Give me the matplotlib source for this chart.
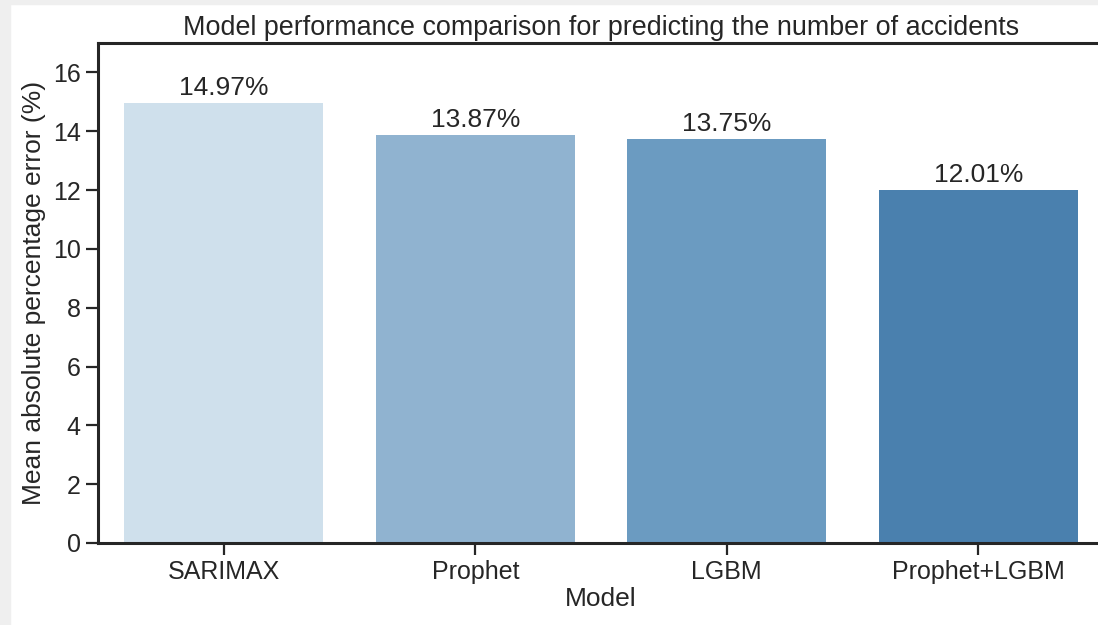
import matplotlib
matplotlib.use("Agg")
import matplotlib.pyplot as plt
from matplotlib.patches import Rectangle

models = ["SARIMAX", "Prophet", "LGBM", "Prophet+LGBM"]
mape = [14.97, 13.87, 13.75, 12.01]
bar_colors = ["#cfe0ec", "#90b3d0", "#6b9bc1", "#4a80ae"]
yticks = [0, 2, 4, 6, 8, 10, 12, 14, 16]

plt.rcParams['font.family'] = ['Liberation Sans', 'DejaVu Sans']
dark = "#262626"

fig = plt.figure(figsize=(10.98, 6.25), dpi=100)
fig.patch.set_facecolor("white")
# light grey strips at left and top edges
fig.patches.append(Rectangle((0, 0), 10/1098, 1, transform=fig.transFigure,
                             color="#efefef", zorder=0))
fig.patches.append(Rectangle((0, 1 - 4/625), 1, 4/625, transform=fig.transFigure,
                             color="#efefef", zorder=0))

ax = fig.add_axes([98/1098, (625-543)/625, (1104-98)/1098, (543-43)/625])
x = range(len(models))
bars = ax.bar(x, mape, width=0.79, color=bar_colors)
for xi, v in zip(x, mape):
    ax.text(xi, v + 0.1, f"{v:.2f}%", ha="center", va="bottom", fontsize=19, color=dark)

ax.set_xlim(-0.5, 3.5)
ax.set_ylim(0, 17)
ax.set_xticks(list(x))
ax.set_xticklabels(models)
ax.set_yticks(yticks)
ax.tick_params(axis="both", labelsize=18, colors=dark, length=8.5, width=1.6, direction="out", pad=4)
for s in ax.spines.values():
    s.set_linewidth(2.2)
    s.set_color(dark)
ax.set_xlabel("Model", fontsize=19, color=dark, labelpad=2)
ax.set_ylabel("Mean absolute percentage error (%)", fontsize=19, color=dark, labelpad=5)
ax.set_title("Model performance comparison for predicting the number of accidents",
             fontsize=19.4, color=dark, pad=6)
ax.set_facecolor("white")

fig.savefig("out.png", dpi=100)
